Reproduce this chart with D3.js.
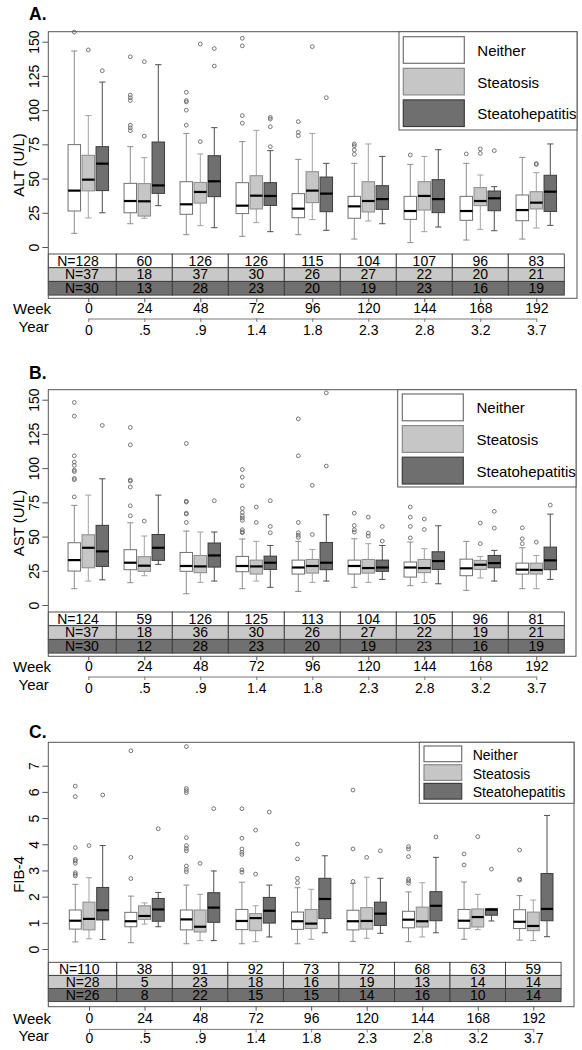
<!DOCTYPE html>
<html><head><meta charset="utf-8">
<script src="https://cdn.jsdelivr.net/npm/d3@7"></script>
<style>body{margin:0;background:#fff}svg{display:block}text{font-family:"Liberation Sans",Arial,sans-serif}</style>
</head><body><svg id="c" width="582" height="1050"></svg>
<script>
// ---------- DATA ----------
const weeks = [0,24,48,72,96,120,144,168,192];
const years = ["0",".5",".9","1.4","1.8","2.3","2.8","3.2","3.7"];
const groups = ["Neither","Steatosis","Steatohepatitis"];

// each entry: [lower whisker, Q1, median, Q3, upper whisker]
const altNeither = [[10,26.3,41.2,74.8,143.2],[17,25,33.6,46.5,73.3],[9,23.9,31.2,47.7,83],[7.8,24.4,30.2,47,77],[9,21.4,28,39,64],[5.8,21,29.7,37,61.1],[3.2,20.2,26.3,37,60.4],[5.1,19.5,26.3,37,61.1],[5.8,19.2,27,38,65.5]];
const altNeitherOut = [[157],[139,111,109,107,89,87,85],[113,107,106,100,89],[152.5,147,96,90.5],[91.6,83.8,81.3],[75.3,74,70.9,67.7],[67.2],[68],[]];
const altSteatosis = [[21.2,41,49.2,67,96],[21,22.6,33.4,46.3,65.3],[15.6,32.1,40.2,47.2,68],[17.8,27.8,37.5,52.1,85.2],[20,32.4,41.2,55,83],[19,25.6,33.6,47.7,75.3],[11.2,27,37.3,47.7,66.2],[12.9,30.2,33.6,43.4,52.6],[13.9,27.8,32.4,40.4,54.3]];
const altSteatosisOut = [[144],[135.4,81],[148.3,77],[],[146.4],[],[],[71.6,68.4],[61,60.3]];
const altSteatohep = [[25,41.2,60.9,73.3,120.5],[30.2,39.2,45,76.7,133.2],[14.1,36.8,48,66.7,87.2],[11.2,30.4,37.3,47,70.4],[12.2,25.8,39,51.1,61.1],[17,27.5,35,44.8,66.2],[14.6,25.1,35,49.2,71.1],[11.9,26.5,35.6,40.9,44.1],[15.8,26,40.4,52.4,75.3]];
const altSteatohepOut = [[128.8],[],[145,132.2],[94.7,93.5,87.9,73.3],[109.1],[],[],[70.4],[]];
const altNNeither = [128,60,126,126,115,104,107,96,83];
const altNSteatosis = [37,18,37,30,26,27,22,20,21];
const altNSteatohep = [30,13,28,23,20,19,23,16,19];

const astNeither = [[11.9,24.8,32.8,45.5,72.8],[16.3,25.8,30.9,40.4,60.1],[8.2,24.6,28.5,38.4,54],[11.9,24.3,28.5,35.5,48.2],[9.9,22.6,27.4,32.8,46.5],[12.9,22.6,28.5,32.8,48.4],[14.1,20.4,27.4,31.4,46],[10.7,21.4,26.8,33.5,46.5],[11.9,22.6,25.8,30.6,41.8]];
const astNeitherOut = [[148,138,109,104.5,102,98.5,97.5,92.5,91.5,79],[129.7,117,91.3,90.5,86.2,72.5,65.2],[118,75.9,75.2,67.1,66.4,60.3],[99,93.4,87.1,70.6,67.6,65.2,63.5,61.8,55,53.5,52.8],[136,109,60.3,52.8,51,49.4],[67.1,58.1,55,53.3],[71.6,64.2,57.4,49],[],[56.4,48.4,44.8]];
const astSteatosis = [[17.5,27.2,41.8,51.3,80.3],[21.4,24.6,28.7,35.3,50.4],[16.5,23.6,28.2,36.2,53.3],[17.5,22.6,28.2,32.8,46.5],[16.5,23.3,28.5,33.3,40.6],[16.5,23.3,27,33.3,44.8],[16.5,23.6,27,33.3,41.1],[19.7,26,29.4,32.6,35.5],[11.9,22.6,25.6,30.6,36.2]];
const astSteatosisOut = [[],[61.3],[],[71.6,60.3],[87.4,51.5],[64.2,52.5,50.4],[62.8,55.2],[59.9,44.8],[45.9]];
const astSteatohep = [[18.4,28.2,39.2,58.2,92.2],[29.7,32.6,41.8,51.5,80.3],[17.5,27.7,36.2,45.3,53.3],[12.9,26,30.9,35.7,43.5],[17.5,25.8,30.9,45.7,65.9],[18.7,24.6,27.4,32.8,43.5],[15.5,26,32.1,38.9,57.9],[17.5,27.2,30.6,36.2,39.9],[18.7,25.8,32.6,42.3,66.4]];
const astSteatohepOut = [[131.2],[],[76.2],[76.2,57.4,52.8],[155,101.5],[57.4,46.7],[],[68.4,56.2],[73]];
const astNNeither = [124,59,126,125,113,104,105,96,81];
const astNSteatosis = [37,18,36,30,26,27,22,19,21];
const astNSteatohep = [30,12,28,23,20,19,23,16,19];

const fibNeither = [[0.27,0.76,1.08,1.49,2.47],[0.24,0.85,1.06,1.4,2.02],[0.2,0.73,1.13,1.49,2.44],[0.2,0.74,1.07,1.51,2.55],[0.2,0.75,1.06,1.41,2.34],[0.29,0.73,1.06,1.48,2.5],[0.28,0.81,1.12,1.44,2.18],[0.37,0.79,1.08,1.51,2.56],[0.34,0.78,1.04,1.5,2.04]];
const fibNeitherOut = [[6.22,5.82,3.87,3.42,3.36,3.27,2.91,2.85,2.79],[7.57,3.5,2.69],[7.73,6.13,6.05,5.97,4.25,3.95,3.84,3.75,3.17,3.04,2.95],[5.36,4.23,3.82,3.69,3.61,3.02,2.93],[4.01,3.44,2.7,2.53],[6.07,3.82,2.58],[3.91,3.82,3.53,2.67,2.6,2.51],[3.63,3.21],[3.78,2.67,2.63]];
const fibSteatosis = [[0.39,0.73,1.15,1.79,2.72],[0.95,1.13,1.26,1.65,1.76],[0.32,0.65,0.85,1.49,2.09],[0.28,0.7,1.18,1.35,1.65],[0.37,0.78,0.97,1.51,2.28],[0.41,0.76,1.07,1.58,2.74],[0.46,0.84,1.06,1.6,2.53],[0.74,0.84,1.22,1.53,2.09],[0.32,0.7,0.88,1.41,1.87]];
const fibSteatosisOut = [[3.95],[],[3.27],[4.54,2.86],[],[3.5],[],[4.29],[]];
const fibSteatohep = [[0.36,1.11,1.48,2.35,3.95],[0.85,1.06,1.51,1.93,2.16],[0.32,1.02,1.58,2.15,2.98],[0.46,0.99,1.46,1.97,2.44],[0.62,1.16,1.91,2.7,3.56],[0.6,0.9,1.35,1.79,2.7],[0.62,1.08,1.65,2.19,3.5],[1.07,1.29,1.5,1.54,1.55],[0.47,1.08,1.53,2.88,5.1]];
const fibSteatohepOut = [[5.88],[4.59],[5.36],[5.23],[],[3.75],[4.28],[3.05],[]];
const fibNNeither = [110,38,91,92,73,72,68,63,59];
const fibNSteatosis = [28,5,23,18,16,19,13,14,14];
const fibNSteatohep = [26,8,22,15,15,14,16,10,14];

const altTicks = [0,25,50,75,100,125,150];
const fibTicks = [0,1,2,3,4,5,6,7];

// ---------- STYLE ----------
const fills = ["#ffffff","#c6c6c6","#6f6f6f"];
const strokes = ["#707070","#8a8a8a","#3c3c3c"];
const whisk = ["#8c8c8c","#a2a2a2","#4e4e4e"];
const rowFill = ["#ffffff","#c8c8c8","#707070"];

const panels = [
 {title:"A.", ylabel:"ALT (U/L)", yDomain:[0,150], ticks:altTicks,
  stats:[altNeither,altSteatosis,altSteatohep], outs:[altNeitherOut,altSteatosisOut,altSteatohepOut], ns:[altNNeither,altNSteatosis,altNSteatohep],
  L:48.3,T:31.7,R:577,B:298.3,x0:88.3,x192:536.3,y0:247,yTop:41.7,tableTop:254,rowH:13.7,weekBase:313.5,yearLine:318.5,yearBase:334.5,titleBase:19.5,off:14,bw:12.5,
  lg:{L:399,T:31.7,B:130,bx:403.3,bw:61,by:36.7,bh:26.6,step:31.6,tx:477.3,tdy:19.3,fs:15}},
 {title:"B.", ylabel:"AST (U/L)", yDomain:[0,150], ticks:altTicks,
  stats:[astNeither,astSteatosis,astSteatohep], outs:[astNeitherOut,astSteatosisOut,astSteatohepOut], ns:[astNNeither,astNSteatosis,astNSteatohep],
  L:48.3,T:389.7,R:576,B:656.3,x0:88.3,x192:536.3,y0:605,yTop:399.7,tableTop:612,rowH:13.7,weekBase:671.5,yearLine:676.5,yearBase:692.5,titleBase:379,off:14,bw:12.5,
  lg:{L:397.7,T:389.7,B:487,bx:402.3,bw:61,by:394,bh:26.8,step:31.6,tx:476.5,tdy:19.3,fs:15}},
 {title:"C.", ylabel:"FIB-4", yDomain:[0,7], ticks:fibTicks,
  stats:[fibNeither,fibSteatosis,fibSteatohep], outs:[fibNeitherOut,fibSteatosisOut,fibSteatohepOut], ns:[fibNNeither,fibNSteatosis,fibNSteatohep],
  L:48.3,T:742.3,R:574,B:1006.7,x0:89,x192:533.3,y0:949,yTop:765.7,tableTop:962.3,rowH:13.1,weekBase:1023.5,yearLine:1028.9,yearBase:1043.5,titleBase:738,off:13.7,bw:12,
  lg:{L:419.3,T:742.3,B:803.3,bx:424,bw:37.7,by:746,bh:15.7,step:18.7,tx:472.7,tdy:14,fs:14}}
];

const svg = d3.select("#c");

function drawPanel(p){
  const x = d3.scaleLinear().domain([0,192]).range([p.x0,p.x192]);
  const y = d3.scaleLinear().domain(p.yDomain).range([p.y0,p.yTop]);
  const g = svg.append("g");

  // boxes
  groups.forEach((grp,gi)=>{
    p.stats[gi].forEach((s,wi)=>{
      const cx = x(weeks[wi]) + (gi-1)*p.off;
      const bw = p.bw, cap = bw*0.5;
      const [lo,q1,md,q3,hi] = s;
      const bg = g.append("g");
      bg.append("line").attr("x1",cx).attr("x2",cx).attr("y1",y(q3)).attr("y2",y(hi)).attr("stroke",whisk[gi]).attr("stroke-width",1);
      bg.append("line").attr("x1",cx).attr("x2",cx).attr("y1",y(q1)).attr("y2",y(lo)).attr("stroke",whisk[gi]).attr("stroke-width",1);
      bg.append("line").attr("x1",cx-cap/2).attr("x2",cx+cap/2).attr("y1",y(hi)).attr("y2",y(hi)).attr("stroke",whisk[gi]).attr("stroke-width",1);
      bg.append("line").attr("x1",cx-cap/2).attr("x2",cx+cap/2).attr("y1",y(lo)).attr("y2",y(lo)).attr("stroke",whisk[gi]).attr("stroke-width",1);
      bg.append("rect").attr("x",cx-bw/2).attr("width",bw).attr("y",y(q3)).attr("height",Math.max(0.5,y(q1)-y(q3)))
        .attr("fill",fills[gi]).attr("stroke",strokes[gi]).attr("stroke-width",1);
      bg.append("line").attr("x1",cx-bw/2).attr("x2",cx+bw/2).attr("y1",y(md)).attr("y2",y(md)).attr("stroke","#000").attr("stroke-width",2.2);
      bg.selectAll("circle.o").data(p.outs[gi][wi]).enter().append("circle")
        .attr("cx",cx).attr("cy",d=>y(d)).attr("r",1.9).attr("fill","none").attr("stroke","#666").attr("stroke-width",0.9);
    });
  });

  // table
  const colL = wi => wi===0 ? p.L : x(weeks[wi]-12);
  const colR = wi => x(weeks[wi]+12);
  p.ns.forEach((arr,ri)=>{
    const ty = p.tableTop + ri*p.rowH;
    arr.forEach((n,wi)=>{
      g.append("rect").attr("x",colL(wi)).attr("y",ty).attr("width",colR(wi)-colL(wi)).attr("height",p.rowH)
        .attr("fill",rowFill[ri]).attr("stroke","#3a3a3a").attr("stroke-width",0.9);
    });
    arr.forEach((n,wi)=>{
      g.append("text").attr("x", wi===0 ? x(0)+10.5 : x(weeks[wi])).attr("y", ty + p.rowH/2 + 4.8)
        .attr("text-anchor", wi===0 ? "end" : "middle").attr("font-size",14).attr("fill","#000")
        .text(wi===0 ? "N="+n : n);
    });
  });

  // frame
  g.append("rect").attr("x",p.L).attr("y",p.T).attr("width",p.R-p.L).attr("height",p.B-p.T)
    .attr("fill","none").attr("stroke","#555").attr("stroke-width",1);

  // legend
  const lg = p.lg;
  g.append("rect").attr("x",lg.L).attr("y",lg.T).attr("width",p.R-lg.L).attr("height",lg.B-lg.T)
    .attr("fill","#fff").attr("stroke","#555").attr("stroke-width",1);
  groups.forEach((grp,gi)=>{
    const by = lg.by + gi*lg.step;
    g.append("rect").attr("x",lg.bx).attr("y",by).attr("width",lg.bw).attr("height",lg.bh)
      .attr("fill",fills[gi]).attr("stroke",strokes[gi]).attr("stroke-width",1.2);
    g.append("text").attr("x",lg.tx).attr("y",by+lg.tdy).attr("font-size",lg.fs).attr("fill","#000").text(grp);
  });

  // y axis
  const ya = g.append("g").attr("transform",`translate(${p.L},0)`)
    .call(d3.axisLeft(y).tickValues(p.ticks).tickSize(6).tickSizeOuter(0).tickFormat(d3.format("d")));
  ya.select(".domain").remove();
  ya.selectAll(".tick line").attr("stroke","#555");
  ya.selectAll(".tick text").attr("x",null).attr("dy",null).attr("transform","translate(-9,0) rotate(-90)")
    .attr("text-anchor","middle").attr("font-size",14).attr("font-family",null).attr("fill","#000");

  g.append("text").attr("transform",`translate(24,${(p.T+p.B)/2}) rotate(-90)`).attr("text-anchor","middle")
    .attr("font-size",15).attr("fill","#000").text(p.ylabel);

  // week axis
  const wa = g.append("g").attr("transform",`translate(0,${p.B})`)
    .call(d3.axisBottom(x).tickValues(weeks).tickSize(4).tickSizeOuter(0));
  wa.select(".domain").remove();
  wa.selectAll(".tick line").attr("stroke","#555");
  wa.selectAll(".tick text").attr("y",p.weekBase-p.B).attr("dy",null).attr("font-size",14).attr("font-family",null).attr("fill","#000");

  // year axis
  const yr = g.append("g").attr("transform",`translate(0,${p.yearLine})`)
    .call(d3.axisBottom(x).tickValues(weeks).tickFormat((d,i)=>years[i]).tickSize(3.5).tickSizeOuter(0));
  yr.select(".domain").attr("stroke","#777");
  yr.selectAll(".tick line").attr("stroke","#777");
  yr.selectAll(".tick text").attr("y",p.yearBase-p.yearLine).attr("dy",null).attr("font-size",14).attr("font-family",null).attr("fill","#000");

  g.append("text").attr("x",13).attr("y",p.weekBase).attr("font-size",15).attr("fill","#000").text("Week");
  g.append("text").attr("x",18.5).attr("y",p.yearBase-3).attr("font-size",15).attr("fill","#000").text("Year");

  g.append("text").attr("x",29).attr("y",p.titleBase).attr("font-size",17.5).attr("font-weight","bold").attr("fill","#000").text(p.title);
}
panels.forEach(drawPanel);
</script>
</body></html>
